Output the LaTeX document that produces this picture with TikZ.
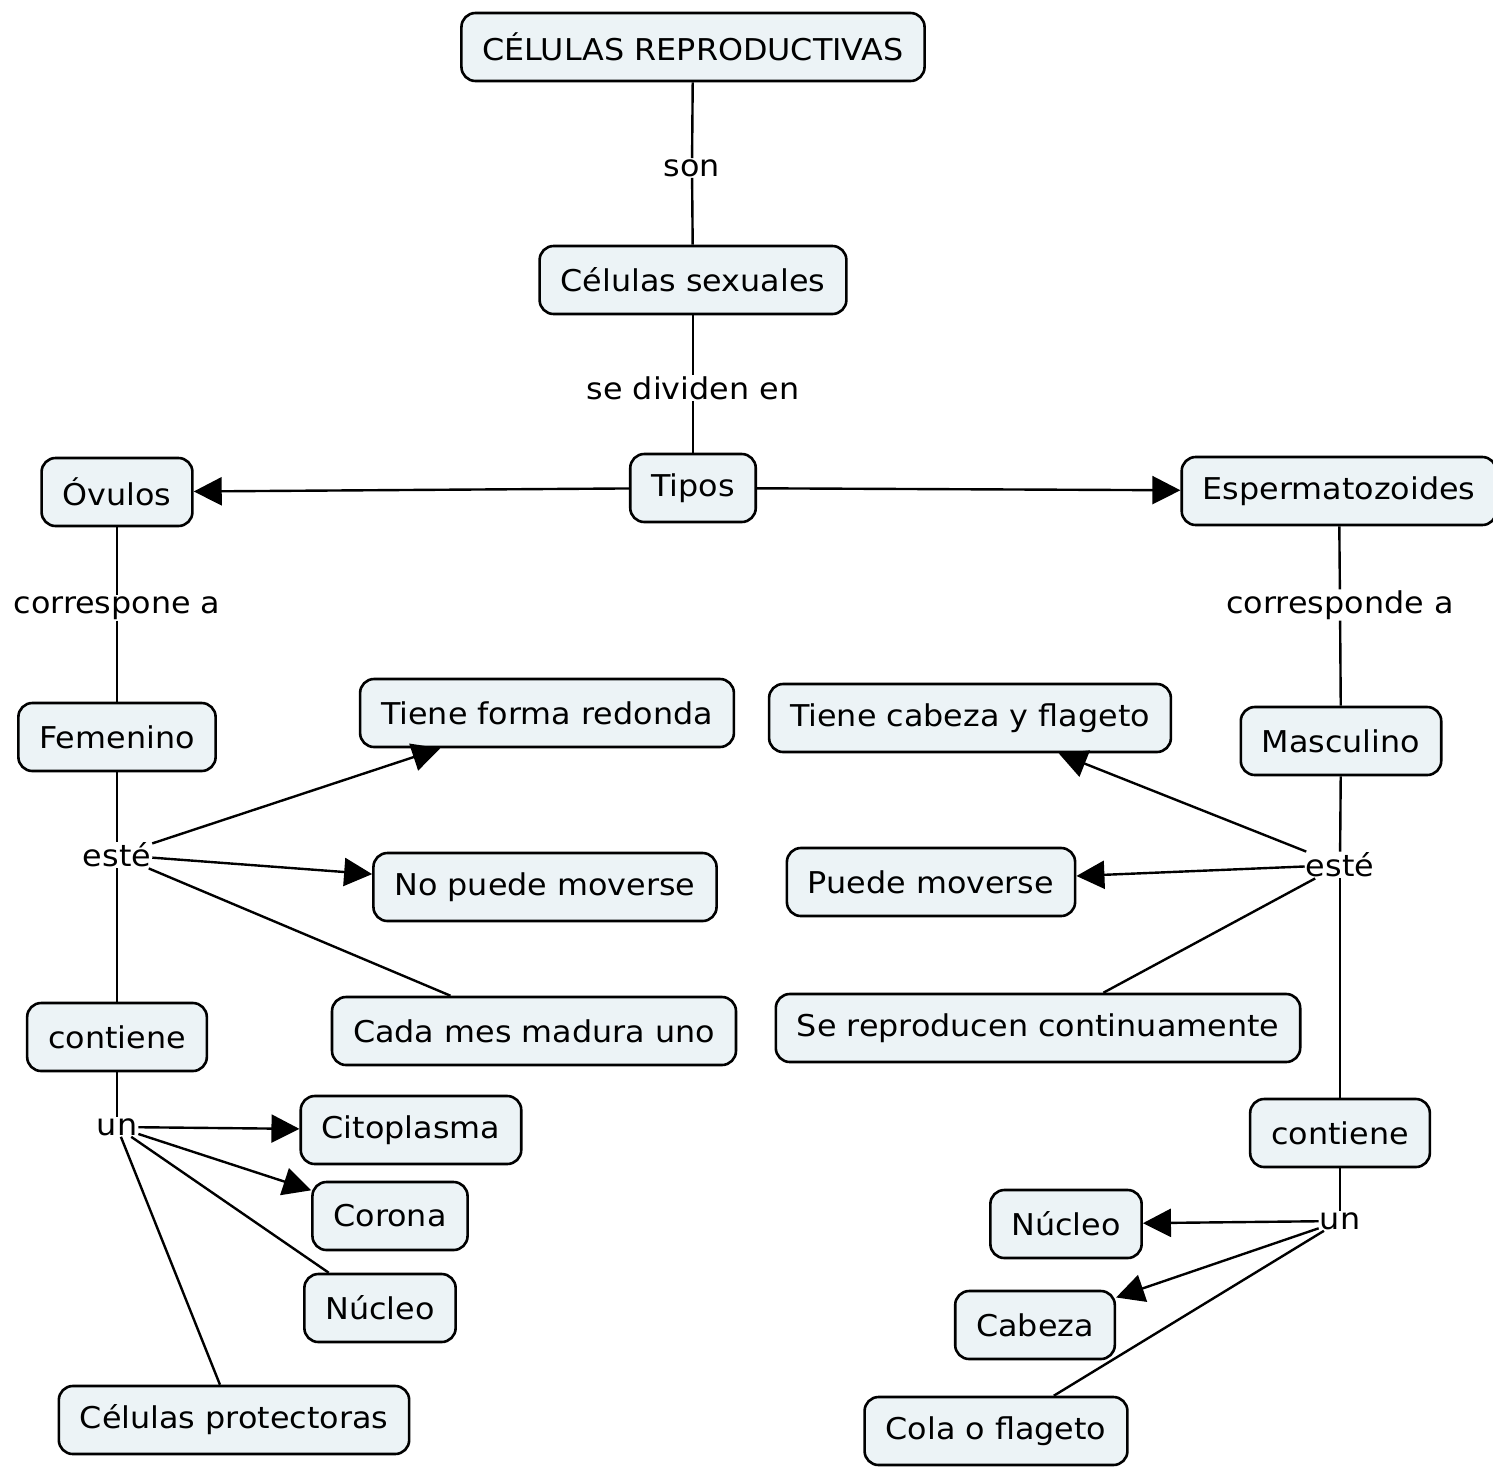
\documentclass[tikz,border=0pt]{standalone}
\usepackage{fontspec}
\setmainfont{DejaVu Sans}[FakeStretch=1.06]
\usetikzlibrary{arrows.meta}
\definecolor{boxfill}{RGB}{236,243,246}
\begin{document}
\begin{tikzpicture}[x=1pt,y=-1pt,
  concept/.style={draw=black, line width=2.6pt, fill=boxfill, rounded corners=14pt,
    minimum height=68pt, inner xsep=21pt, font=\fontsize{30}{35}\selectfont},
  phrase/.style={inner sep=1pt, font=\fontsize{30}{35}\selectfont},
  link/.style={line width=2.4pt},
  arrowlink/.style={link, -{Triangle[length=28pt,width=28pt]}}]
\useasboundingbox (0,0) rectangle (1493,1467);

% concepts
\node[concept] (top)    at (693,47)   {CÉLULAS REPRODUCTIVAS};
\node[concept] (sex)    at (693,280)  {Células sexuales};
\node[concept] (tipos)  at (693,488)  {Tipos};
\node[concept] (ovu)    at (117,492)  {Óvulos};
\node[concept] (esp)    at (1339,491) {Espermatozoides};
\node[concept] (fem)    at (117,737)  {Femenino};
\node[concept] (redon)  at (547,713)  {Tiene forma redonda};
\node[concept] (nomov)  at (545,887)  {No puede moverse};
\node[concept] (cada)   at (534,1031) {Cada mes madura uno};
\node[concept] (contL)  at (117,1037) {contiene};
\node[concept] (cito)   at (411,1130) {Citoplasma};
\node[concept] (coro)   at (390,1216) {Corona};
\node[concept] (nucL)   at (380,1308) {Núcleo};
\node[concept] (prot)   at (234,1420) {Células protectoras};
\node[concept] (cabfl)  at (970,718)  {Tiene cabeza y flageto};
\node[concept] (masc)   at (1341,741) {Masculino};
\node[concept] (mov)    at (931,882)  {Puede moverse};
\node[concept] (repro)  at (1038,1028){Se reproducen continuamente};
\node[concept] (contR)  at (1340,1133){contiene};
\node[concept] (nucR)   at (1066,1224){Núcleo};
\node[concept] (cab)    at (1035,1325){Cabeza};
\node[concept] (cola)   at (996,1431) {Cola o flageto};

% linking phrases
\node[phrase] (son)    at (692,168)  {son};
\node[phrase] (divid)  at (693,388)  {se dividen en};
\node[phrase] (corrL)  at (117,608)  {correspone a};
\node[phrase] (corrR)  at (1340,605) {corresponde a};
\node[phrase] (esteL)  at (117,855)  {esté};
\node[phrase] (esteR)  at (1340,865) {esté};
\node[phrase] (unL)    at (117,1127) {un};
\node[phrase] (unR)    at (1340,1221){un};

% connections
\draw[link] (top) -- (son);
\draw[link] (son) -- (sex);
\draw[link] (sex) -- (divid);
\draw[link] (divid) -- (tipos);
\draw[arrowlink] (tipos) -- (ovu);
\draw[arrowlink] (tipos) -- (esp);

\draw[link] (ovu) -- (corrL);
\draw[link] (corrL) -- (fem);
\draw[link] (fem) -- (esteL);
\draw[arrowlink] (esteL) -- (redon);
\draw[arrowlink] (esteL) -- (nomov);
\draw[link] (esteL) -- (cada);
\draw[link] (esteL) -- (contL);
\draw[link] (contL) -- (unL);
\draw[arrowlink] (unL) -- (cito);
\draw[arrowlink] (unL) -- (coro);
\draw[link] (unL) -- (nucL);
\draw[link] (unL) -- (prot);

\draw[link] (esp) -- (corrR);
\draw[link] (corrR) -- (masc);
\draw[link] (masc) -- (esteR);
\draw[arrowlink] (esteR) -- (cabfl);
\draw[arrowlink] (esteR) -- (mov);
\draw[link] (esteR) -- (repro);
\draw[link] (esteR) -- (contR);
\draw[link] (contR) -- (unR);
\draw[arrowlink] (unR) -- (nucR);
\draw[arrowlink] (unR) -- (cab);
\draw[link] (unR) -- (cola);
\end{tikzpicture}
\end{document}
